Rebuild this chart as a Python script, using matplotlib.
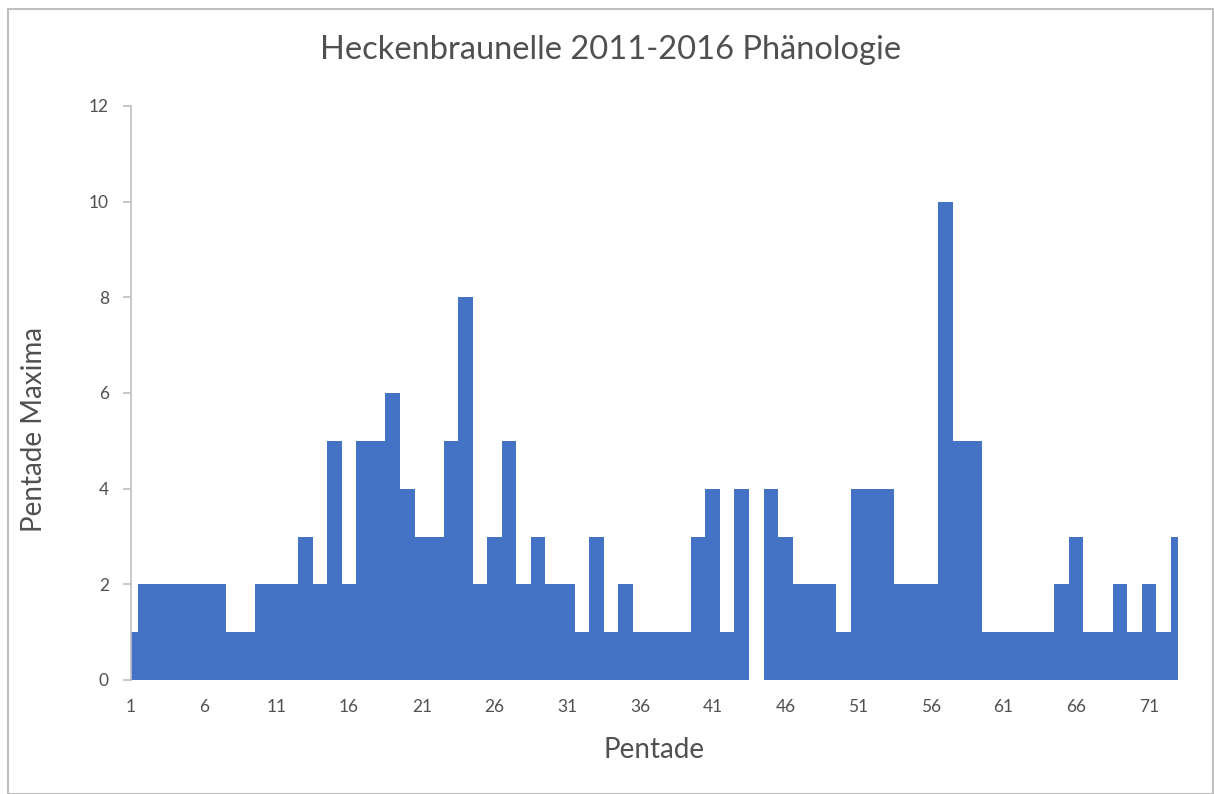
import numpy as np
import matplotlib
matplotlib.use("Agg")
import matplotlib.pyplot as plt
from matplotlib.patches import Rectangle

plt.rcParams['font.family'] = ['Lato', 'DejaVu Sans']

# Pentade 1..73 and the maximum count per pentade (2011-2016)
pentade = np.arange(1, 74)
maxima = [1, 2, 2, 2, 2, 2, 2, 1, 1, 2,
          2, 2, 3, 2, 5, 2, 5, 5, 6, 4,
          3, 3, 5, 8, 2, 3, 5, 2, 3, 2,
          2, 1, 3, 1, 2, 1, 1, 1, 1, 3,
          4, 1, 4, 0, 4, 3, 2, 2, 2, 1,
          4, 4, 4, 2, 2, 2, 10, 5, 5, 1,
          1, 1, 1, 1, 2, 3, 1, 1, 2, 1,
          2, 1, 3]
xticks = np.arange(1, 74, 5)
yticks = np.arange(0, 13, 2)

title = "Heckenbraunelle 2011-2016 Phänologie"
xlabel = "Pentade"
ylabel = "Pentade Maxima"

W, H = 1214, 794
fig = plt.figure(figsize=(W / 100, H / 100), dpi=100)
ax = fig.add_axes([131 / W, 1 - 680 / H, (1178 - 131) / W, (680 - 106) / H])

ax.bar(pentade, maxima, width=1.0, color="#4472C4", linewidth=0)
ax.set_xlim(1, 73)
ax.set_ylim(0, 12)

for side in ["top", "right", "bottom"]:
    ax.spines[side].set_visible(False)
ax.spines["left"].set_color("#BFBFBF")
ax.spines["left"].set_linewidth(1.2)

ax.set_xticks(xticks)
ax.set_yticks(yticks)
ax.tick_params(axis="x", length=0, pad=14, labelsize=12.5, labelcolor="#505050")
ax.tick_params(axis="y", length=6, width=1.2, color="#BFBFBF", pad=10,
               labelsize=12.5, labelcolor="#505050")

fig.text(611 / W, 1 - 50 / H, title, ha="center", va="center",
         fontsize=23.5, color="#505050")
fig.text(654 / W, 1 - 750 / H, xlabel, ha="center", va="center",
         fontsize=20, color="#505050")
fig.text(34 / W, 1 - 429 / H, ylabel, ha="center", va="center",
         rotation=90, fontsize=20, color="#505050")

# chart border
fig.patches.append(Rectangle((8 / W, 0), (W - 9) / W, 1 - 9 / H,
                             transform=fig.transFigure, fill=False,
                             edgecolor="#BFBFBF", linewidth=1.5))

fig.savefig("out.png", dpi=100)
